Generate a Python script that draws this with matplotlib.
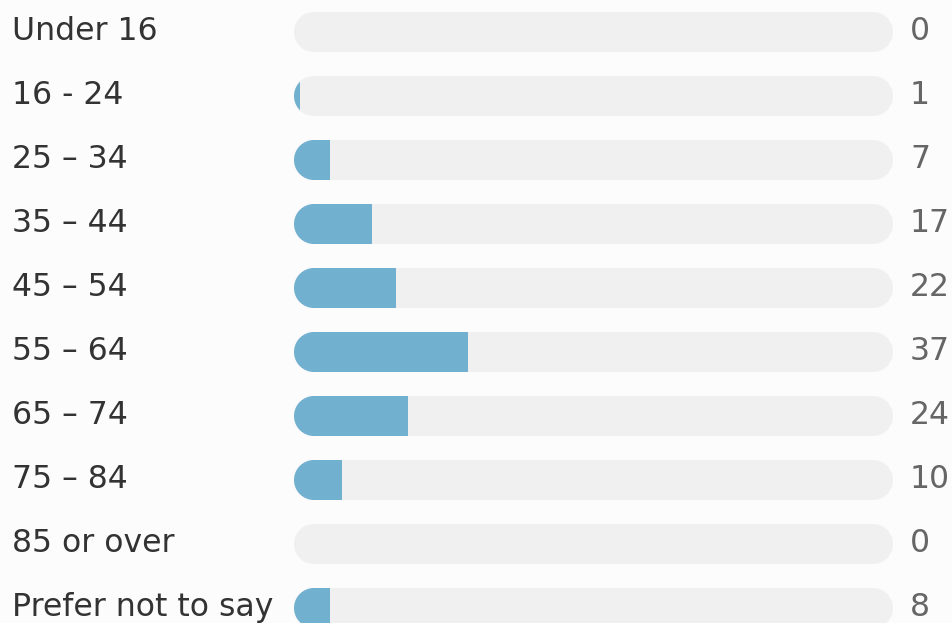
import matplotlib
matplotlib.use('Agg')
import numpy as np
import matplotlib.pyplot as plt
from matplotlib.patches import Polygon, Rectangle
from matplotlib.transforms import blended_transform_factory, IdentityTransform, ScaledTranslation

# Données
categories = ['Under 16', '16 - 24', '25 – 34', '35 – 44', '45 – 54',
              '55 – 64', '65 – 74', '75 – 84', '85 or over', 'Prefer not to say']
counts = [0, 1, 7, 17, 22, 37, 24, 10, 0, 8]
# pourcentages arrondis (longueur des barres)
percents = [0, 1, 6, 13, 17, 29, 19, 8, 0, 6]

W, H, DPI = 952, 623, 100
BG = '#fcfcfc'
TRACK = '#f0f0f0'
FILL = '#72b0d0'

fig = plt.figure(figsize=(W / DPI, H / DPI), dpi=DPI, facecolor=BG)
# zone des barres : de x=294 à x=893 px, toute la hauteur
ax = fig.add_axes([294 / W, 0, 599 / W, 1])
ax.set_facecolor(BG)
ax.set_xlim(0, 100)
ax.set_ylim((H - 32) / 64, -32 / 64)
ax.axis('off')

bar_h = 40 / 64
track_w, rad = 599, 20      # en pixels

# forme "pilule" en pixels, relative au point (0, ligne)
t = np.linspace(np.pi / 2, 3 * np.pi / 2, 40)
left = np.column_stack([rad + rad * np.cos(t), rad * np.sin(t)])
right = np.column_stack([track_w - rad - rad * np.cos(t), -rad * np.sin(t)])
pill = np.vstack([left, right])

label_tf = blended_transform_factory(fig.transFigure, ax.transData)

for i, (cat, n, p) in enumerate(zip(categories, counts, percents)):
    tf = IdentityTransform() + ScaledTranslation(0, i, ax.transData)
    track = Polygon(pill, closed=True, transform=tf, fc=TRACK, ec='none')
    ax.add_patch(track)
    if p > 0:
        fill = Rectangle((0, i - bar_h / 2), p, bar_h, fc=FILL, ec='none')
        ax.add_patch(fill)
        fill.set_clip_path(track)

    ax.text(12 / W, i + 8 / 64, cat, transform=label_tf, ha='left', va='baseline',
            fontsize=22.7, color='#333333', family='DejaVu Sans')
    ax.annotate(str(n), xy=(1, i + 8 / 64), xycoords=('axes fraction', 'data'),
                xytext=(17, 0), textcoords='offset pixels', ha='left', va='baseline',
                fontsize=22.7, color='#666666', family='DejaVu Sans',
                annotation_clip=False)

fig.savefig('out.png', dpi=DPI, facecolor=BG)
